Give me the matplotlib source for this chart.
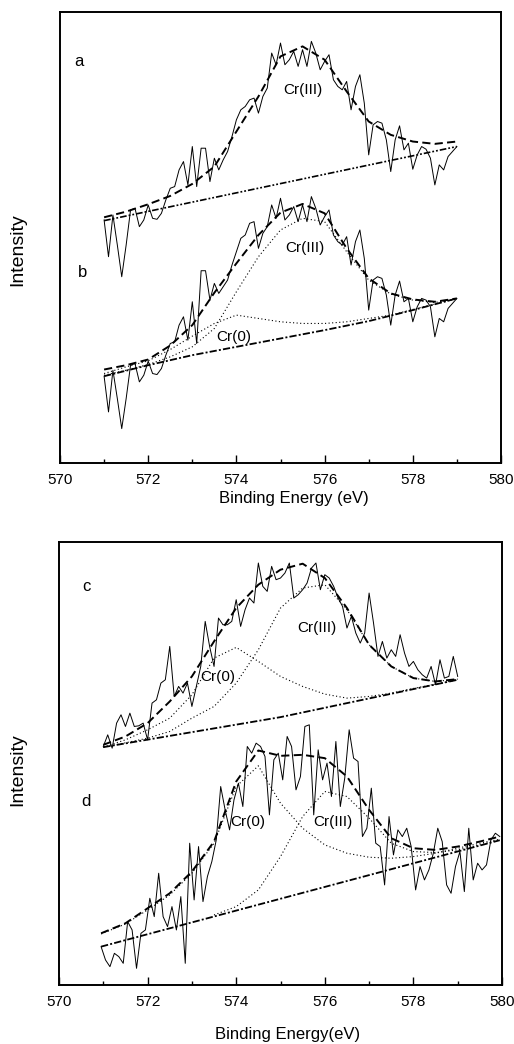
import numpy as np
import matplotlib.pyplot as plt

plt.rcParams['font.family'] = ['Liberation Sans', 'DejaVu Sans']

# ---- top panel: spectra a and b, 571-579 eV, 0.1 eV step ----
energy_ab = np.linspace(571.0, 579.0, 81)
spec_a = [728, 618, 743, 653, 558, 653, 758, 763, 708, 728,
          773, 733, 730, 748, 788, 823, 828, 878, 903, 833,
          948, 828, 943, 943, 843, 913, 878, 908, 933, 978,
          1028, 1058, 1068, 1088, 1093, 1048, 1098, 1123, 1228, 1193,
          1258, 1193, 1208, 1233, 1188, 1238, 1188, 1263, 1228, 1178,
          1203, 1223, 1148, 1128, 1118, 1143, 1058, 1128, 1163, 1078,
          923, 1013, 1023, 1018, 968, 873, 968, 1010, 938, 958,
          880, 923, 948, 940, 913, 833, 893, 878, 918, 933,
          948]
spec_b = [260, 153, 278, 193, 103, 193, 293, 298, 243, 263,
          305, 268, 265, 283, 323, 358, 363, 413, 438, 368,
          483, 358, 576, 576, 488, 538, 508, 528, 548, 593,
          633, 673, 683, 718, 723, 643, 688, 708, 773, 733,
          793, 728, 743, 768, 723, 773, 723, 798, 763, 713,
          738, 758, 683, 663, 653, 678, 593, 663, 698, 613,
          458, 548, 558, 553, 503, 413, 503, 545, 483, 493,
          423, 468, 493, 488, 468, 378, 433, 423, 463, 478,
          493]

# fitted curves, 0.5 eV step
fit_e = np.linspace(571.0, 579.0, 17)
env_a = [736, 753, 775, 800, 836, 888, 993, 1098, 1218, 1248, 1208, 1113, 1023, 983, 963, 956, 963]
bg_a_e = [571.0, 579.0]
bg_a = [726, 948]

env_b = [280, 293, 310, 352, 413, 510, 598, 683, 750, 776, 748, 643, 553, 508, 490, 483, 493]
cr3_b = [263, 278, 295, 318, 348, 403, 513, 618, 698, 733, 723, 633, 548, 506, 488, 481, 491]
cr0_b = [268, 288, 306, 340, 380, 418, 443, 433, 423, 418, 418, 423, 433, 443, 460, 476, 493]
bg_b_e = [571, 572, 573, 574, 575, 576, 577, 578, 579]
bg_b = [260, 293, 323, 348, 373, 398, 425, 458, 493]

# ---- bottom panel: spectra c and d ----
energy_c = np.linspace(571.0, 579.0, 81)
spec_c = [715, 750, 710, 785, 810, 775, 815, 775, 777, 785,
          735, 845, 855, 905, 915, 1015, 865, 895, 875, 905,
          835, 895, 955, 1090, 1015, 955, 1100, 1080, 1080, 1090,
          1155, 1075, 1125, 1160, 1145, 1265, 1195, 1180, 1255, 1215,
          1220, 1235, 1265, 1160, 1170, 1185, 1205, 1250, 1265, 1185,
          1230, 1220, 1195, 1160, 1135, 1070, 1105, 1055, 1025, 1055,
          1175, 1085, 985, 1030, 980, 1005, 985, 1050, 995, 955,
          970, 945, 930, 920, 955, 900, 975, 920, 925, 985,
          925]
env_c = [720, 745, 785, 850, 925, 1030, 1130, 1200, 1245, 1263, 1220, 1130, 1020, 955, 920, 910, 917]
cr0_c = [713, 735, 765, 800, 870, 980, 1012, 970, 925, 895, 872, 860, 865, 875, 889, 902, 915]
cr3_c = [713, 726, 740, 760, 800, 835, 905, 1005, 1130, 1190, 1200, 1125, 1020, 955, 920, 910, 917]
bg_c_e = [571, 575, 579]
bg_c = [713, 803, 915]

energy_d = np.linspace(570.95, 579.95, 91)
spec_d = [115, 75, 55, 95, 85, 65, 190, 165, 50, 155,
          165, 260, 205, 335, 205, 175, 235, 165, 265, 65,
          425, 255, 415, 250, 325, 370, 435, 595, 525, 465,
          555, 605, 535, 715, 695, 725, 715, 685, 510, 675,
          695, 615, 745, 715, 585, 625, 775, 780, 510, 705,
          615, 665, 565, 730, 535, 620, 765, 680, 670, 445,
          470, 590, 425, 415, 300, 505, 390, 465, 445, 470,
          415, 285, 355, 315, 345, 395, 470, 430, 300, 275,
          355, 400, 280, 470, 315, 365, 345, 360, 435, 455,
          445]
fit_e_d = [570.95, 571.5, 572.0, 572.5, 573.0, 573.5, 574.0, 574.5, 575.0, 575.5,
           576.0, 576.5, 577.0, 577.5, 578.0, 578.5, 579.0, 579.5, 579.95]
env_d = [155, 185, 230, 275, 340, 430, 610, 703, 687, 690, 680, 625, 525, 440, 410, 405, 415, 430, 445]
cr0_d = [153, 183, 225, 270, 335, 425, 595, 657, 545, 470, 420, 395, 383, 380, 385, 395, 410, 425, 437]
cr3_d_e = fit_e_d[5:]
cr3_d = [210, 235, 285, 385, 505, 580, 565, 500, 425, 400, 397, 405, 420, 435]
bg_d_e = [570.95, 579.95]
bg_d = [115, 434]

W, H = 514, 1044
fig = plt.figure(figsize=(W / 100, H / 100), dpi=100)
ax1 = fig.add_axes([60 / W, 1 - 463 / H, 441 / W, 451 / H])
ax2 = fig.add_axes([59 / W, 1 - 985 / H, 443 / W, 443 / H])

data_kw = dict(color='black', lw=0.7)
env_kw = dict(color='black', lw=1.4, ls=(0, (4.2, 2.2)))
comp_kw = dict(color='black', lw=0.8, ls=(0, (1, 2.2)))
bg_kw = dict(color='black', lw=1.3, ls=(0, (4, 1.2, 1.1, 1.2)))
bg2_kw = dict(color='black', lw=1.2, ls=(0, (4, 1.2, 1.1, 1.2, 1.1, 1.2)))

# panel a / b
ax1.plot(energy_ab, spec_a, **data_kw)
ax1.plot(fit_e, env_a, **env_kw)
ax1.plot(bg_a_e, bg_a, **bg2_kw)
ax1.plot(energy_ab, spec_b, **data_kw)
ax1.plot(fit_e, env_b, **env_kw)
ax1.plot(fit_e, cr3_b, **comp_kw)
ax1.plot(fit_e, cr0_b, **comp_kw)
ax1.plot(bg_b_e, bg_b, **bg_kw)

# panel c / d
ax2.plot(energy_c, spec_c, **data_kw)
ax2.plot(fit_e, env_c, **env_kw)
ax2.plot(fit_e, cr0_c, **comp_kw)
ax2.plot(fit_e, cr3_c, **comp_kw)
ax2.plot(bg_c_e, bg_c, **bg_kw)
ax2.plot(energy_d, spec_d, **data_kw)
ax2.plot(fit_e_d, env_d, **env_kw)
ax2.plot(fit_e_d, cr0_d, **comp_kw)
ax2.plot(cr3_d_e, cr3_d, **comp_kw)
ax2.plot(bg_d_e, bg_d, **bg_kw)

lab = dict(fontsize=11, ha='center', va='center')
let = dict(fontsize=12, ha='center', va='center')
ax1.text(570.43, 1202, 'a', **let)
ax1.text(570.5, 572, 'b', **let)
ax1.text(575.51, 1118, 'Cr(III)', **lab)
ax1.text(575.56, 644, 'Cr(III)', **lab)
ax1.text(573.95, 377, 'Cr(0)', **lab)
ax2.text(570.61, 1194, 'c', **let)
ax2.text(570.61, 549, 'd', **let)
ax2.text(575.83, 1071, 'Cr(III)', **lab)
ax2.text(573.59, 924, 'Cr(0)', **lab)
ax2.text(574.25, 489, 'Cr(0)', **lab)
ax2.text(576.19, 489, 'Cr(III)', **lab)

for ax, ymax in ((ax1, 1351), (ax2, 1328)):
    ax.set_xlim(570, 580)
    ax.set_ylim(0, ymax)
    ax.set_xticks(range(570, 581, 2))
    ax.set_xticks(range(571, 580, 2), minor=True)
    ax.tick_params(axis='x', which='major', direction='in', length=6, width=1,
                   labelsize=11, pad=7)
    ax.tick_params(axis='x', which='minor', direction='in', length=3, width=1)
    ax.set_yticks([])
    for s in ax.spines.values():
        s.set_linewidth(1.4)

fig.text(294 / W, 1 - 498 / H, 'Binding Energy (eV)', fontsize=12, ha='center', va='center')
fig.text(288 / W, 1 - 1034 / H, 'Binding Energy(eV)', fontsize=12, ha='center', va='center')
for yc in (250, 770):
    fig.text(18 / W, 1 - yc / H, 'Intensity', fontsize=14, rotation=90,
             ha='center', va='center')

fig.savefig('out.png', dpi=100)
